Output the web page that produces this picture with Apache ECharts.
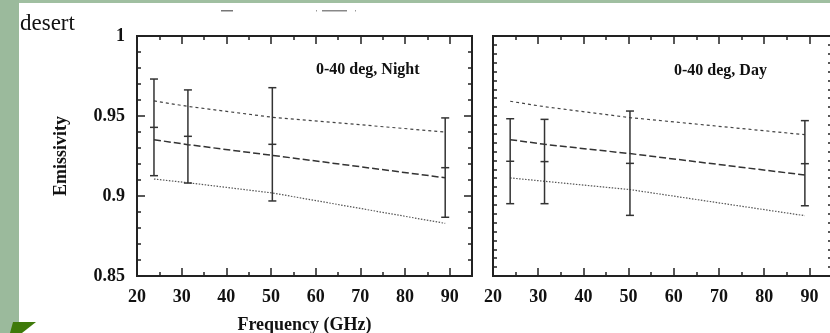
<!DOCTYPE html>
<html>
<head>
<meta charset="utf-8">
<script src="https://cdn.jsdelivr.net/npm/echarts@6/dist/echarts.min.js"></script>
<style>
  html, body { margin: 0; padding: 0; background: #fff; }
  #chart { width: 830px; height: 333px; }
</style>
</head>
<body>
<div id="chart"></div>
<script>
// channel frequencies (GHz)
const freqs = [23.8, 31.4, 50.3, 89.0]

// 0-40 deg, Night
const nightUpper = [0.9594, 0.9560, 0.9492, 0.9400]
const nightMid = [0.9352, 0.9321, 0.9254, 0.9114]
const nightLower = [0.9106, 0.9083, 0.9019, 0.8829]
const nightErrLow = [0.9127, 0.9081, 0.8969, 0.8867]
const nightErrMean = [0.9429, 0.9373, 0.9323, 0.9177]
const nightErrHigh = [0.9731, 0.9663, 0.9677, 0.9488]

// 0-40 deg, Day
const dayUpper = [0.9592, 0.9558, 0.9490, 0.9383]
const dayMid = [0.9352, 0.9323, 0.9265, 0.9131]
const dayLower = [0.9113, 0.9092, 0.9040, 0.8877]
const dayErrLow = [0.8952, 0.8952, 0.8879, 0.8939]
const dayErrMean = [0.9217, 0.9215, 0.9204, 0.9202]
const dayErrHigh = [0.9483, 0.9479, 0.9531, 0.9471]

const xTicks = [20, 30, 40, 50, 60, 70, 80, 90]
const yTicks = [0.85, 0.9, 0.95, 1]

const serif = 'Liberation Serif'
const ink = '#222'

const chart = echarts.init(document.getElementById('chart'))

function xAxesFor(gi, withLabels, name) {
  const base = {
    type: 'value',
    gridIndex: gi,
    min: xTicks[0],
    max: 95,
    splitLine: { show: false },
    axisLine: { show: false }
  }
  return [
    {
      ...base,
      position: 'bottom',
      interval: 10,
      axisTick: { inside: true, length: 8, lineStyle: { color: ink, width: 1.5 } },
      axisLabel: {
        show: withLabels,
        showMaxLabel: false,
        margin: 12,
        fontFamily: serif,
        fontWeight: 'bold',
        fontSize: 18,
        color: '#111',
        formatter: v => (xTicks.includes(v) ? String(v) : '')
      },
      name: name,
      nameLocation: 'middle',
      nameGap: 40,
      nameTextStyle: { fontFamily: serif, fontWeight: 'bold', fontSize: 18, color: '#111' }
    },
    {
      ...base,
      position: 'bottom',
      interval: 5,
      axisTick: { inside: true, length: 4, lineStyle: { color: ink, width: 1.5 } },
      axisLabel: { show: false }
    },
    {
      ...base,
      position: 'top',
      interval: 10,
      axisTick: { inside: true, length: 8, lineStyle: { color: ink, width: 1.5 } },
      axisLabel: { show: false }
    },
    {
      ...base,
      position: 'top',
      interval: 5,
      axisTick: { inside: true, length: 4, lineStyle: { color: ink, width: 1.5 } },
      axisLabel: { show: false }
    }
  ]
}

function yAxesFor(gi, withLabels, majorLen, minorSplit) {
  const base = {
    type: 'value',
    gridIndex: gi,
    min: yTicks[0],
    max: yTicks[yTicks.length - 1],
    interval: 0.05,
    splitLine: { show: false },
    axisLine: { show: false },
    axisTick: { inside: true, length: majorLen, lineStyle: { color: ink, width: 1.5 } },
    minorTick: { show: true, splitNumber: minorSplit, length: 4, lineStyle: { color: ink, width: 1.5 } },
    minorSplitLine: { show: false }
  }
  return [
    {
      ...base,
      position: 'left',
      axisLabel: {
        show: withLabels,
        margin: 12,
        padding: [0, 0, 4, 0],
        fontFamily: serif,
        fontWeight: 'bold',
        fontSize: 18,
        color: '#111'
      },
      name: withLabels ? 'Emissivity' : '',
      nameLocation: 'middle',
      nameGap: 67,
      nameTextStyle: { fontFamily: serif, fontWeight: 'bold', fontSize: 18, color: '#111' }
    },
    { ...base, position: 'right', axisLabel: { show: false } }
  ]
}

function errorBarSeries(xi, yi, lo, mean, hi) {
  return {
    type: 'custom',
    xAxisIndex: xi,
    yAxisIndex: yi,
    encode: { x: 0, y: [1, 2, 3] },
    data: freqs.map((f, i) => [f, lo[i], mean[i], hi[i]]),
    z: 5,
    renderItem: (params, api) => {
      const x = api.value(0)
      const pLo = api.coord([x, api.value(1)])
      const pMid = api.coord([x, api.value(2)])
      const pHi = api.coord([x, api.value(3)])
      const w = 4
      const st = { stroke: '#333', lineWidth: 1.5 }
      const seg = (x1, y1, x2, y2) => ({ type: 'line', shape: { x1, y1, x2, y2 }, style: st })
      return {
        type: 'group',
        children: [
          seg(pHi[0], pHi[1], pLo[0], pLo[1]),
          seg(pHi[0] - w, pHi[1], pHi[0] + w, pHi[1]),
          seg(pLo[0] - w, pLo[1], pLo[0] + w, pLo[1]),
          seg(pMid[0] - w, pMid[1], pMid[0] + w, pMid[1])
        ]
      }
    }
  }
}

function modelLine(xi, yi, vals, dash, width, color) {
  return {
    type: 'line',
    xAxisIndex: xi,
    yAxisIndex: yi,
    data: freqs.map((f, i) => [f, vals[i]]),
    symbol: 'none',
    silent: true,
    lineStyle: { type: dash, width: width, color: color }
  }
}

const option = {
  animation: false,
  backgroundColor: '#fff',
  title: [
    { text: 'desert', left: 20, top: 12, padding: 0,
      textStyle: { fontFamily: serif, fontWeight: 'normal', fontSize: 23, color: '#111' } },
    { text: '0-40 deg, Night', left: 316, top: 62, padding: 0,
      textStyle: { fontFamily: serif, fontWeight: 'bold', fontSize: 16, color: '#111' } },
    { text: '0-40 deg, Day', left: 674, top: 63, padding: 0,
      textStyle: { fontFamily: serif, fontWeight: 'bold', fontSize: 16, color: '#111' } }
  ],
  grid: [
    { left: 137, top: 36, width: 335, height: 240, outerBoundsMode: 'none',
      show: true, borderColor: ink, borderWidth: 2, backgroundColor: 'transparent' },
    { left: 493, top: 36, width: 339, height: 240, outerBoundsMode: 'none',
      show: true, borderColor: ink, borderWidth: 2, backgroundColor: 'transparent' }
  ],
  xAxis: [
    ...xAxesFor(0, true, 'Frequency (GHz)'),
    ...xAxesFor(1, true, '')
  ],
  yAxis: [
    ...yAxesFor(0, true, 8, 5),
    ...yAxesFor(1, false, 4, 9)
  ],
  series: [
    modelLine(0, 0, nightUpper, [3, 3], 1.2, '#444'),
    modelLine(0, 0, nightMid, [7, 3], 1.5, '#333'),
    modelLine(0, 0, nightLower, [1.5, 1.5], 1.2, '#555'),
    errorBarSeries(0, 0, nightErrLow, nightErrMean, nightErrHigh),
    modelLine(4, 2, dayUpper, [3, 3], 1.2, '#444'),
    modelLine(4, 2, dayMid, [7, 3], 1.5, '#333'),
    modelLine(4, 2, dayLower, [1.5, 1.5], 1.2, '#555'),
    errorBarSeries(4, 2, dayErrLow, dayErrMean, dayErrHigh)
  ],
  graphic: [
    { type: 'rect', left: 0, top: 0, shape: { width: 830, height: 3 }, style: { fill: '#a0bfa1' }, z: -1 },
    { type: 'rect', left: 0, top: 0, shape: { width: 19, height: 333 }, style: { fill: '#9bba9c' }, z: -1 },
    { type: 'polygon', shape: { points: [[13, 322], [36, 322], [22, 333], [10, 333]] }, style: { fill: '#3f7a0a' } },
    { type: 'rect', left: 221, top: 10, shape: { width: 12, height: 1.5 }, style: { fill: '#777' } },
    { type: 'rect', left: 322, top: 10, shape: { width: 25, height: 1.5 }, style: { fill: '#888' } },
    { type: 'rect', left: 316, top: 10, shape: { width: 1, height: 1.5 }, style: { fill: '#999' } },
    { type: 'rect', left: 355, top: 10, shape: { width: 1, height: 1.5 }, style: { fill: '#999' } }
  ]
}

chart.setOption(option)
</script>
</body>
</html>
